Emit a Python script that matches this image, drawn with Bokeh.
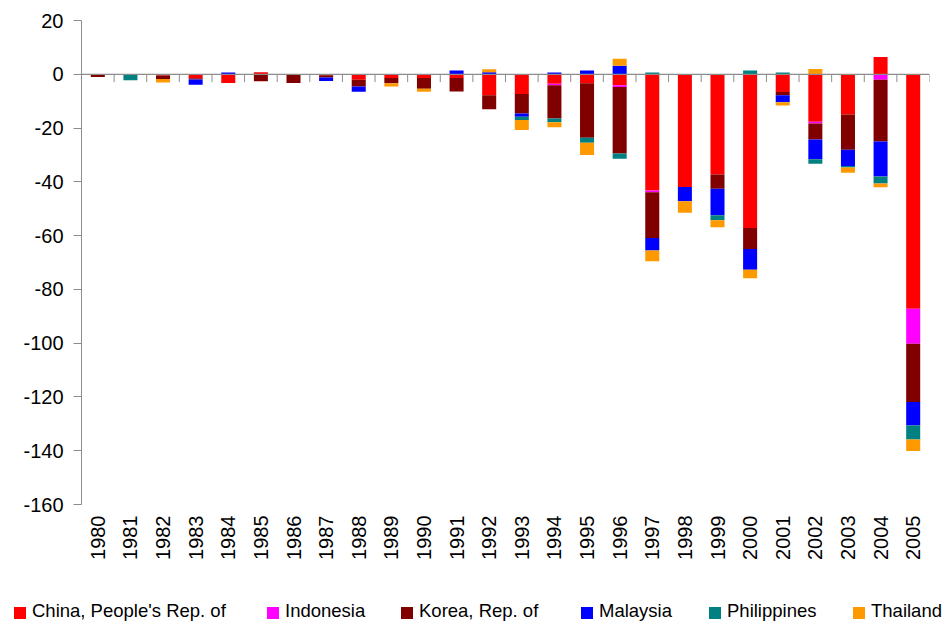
import math
from bokeh.plotting import figure
from bokeh.layouts import column
from bokeh.models import Range1d, FixedTicker, Span, Div
from bokeh.embed import file_html
from bokeh.resources import INLINE

years = ["1980", "1981", "1982", "1983", "1984", "1985", "1986", "1987", "1988",
         "1989", "1990", "1991", "1992", "1993", "1994", "1995", "1996", "1997",
         "1998", "1999", "2000", "2001", "2002", "2003", "2004", "2005"]

china = [-0.3, -0.2, -0.5, -1.5, -3.2, 0.8, -0.3, -0.4, -2.0, -1.4, -1.4, -1.4, -7.8,
         -7.3, -3.5, -3.3, -4.1, -43.2, -41.9, -37.3, -57.2, -6.6, -17.7, -15.0, 6.4, -87.2]
indonesia = [0, 0, 0, 0, 0, 0, 0, 0, 0, 0, 0, 0, 0,
             0, -0.6, 0, -0.6, -0.7, 0, 0, 0, 0, -0.6, 0, -2.0, -13.0]
korea = [-0.7, 0, -1.3, -0.4, 0, -2.6, -2.9, -0.8, -2.5, -1.9, -4.0, -5.0, -5.2,
         -7.3, -12.3, -20.3, -24.8, -17.0, 0, -5.3, -7.8, -1.2, -6.0, -13.1, -23.0, -21.7]
malaysia = [0, 0, 0, -2.0, 0.7, 0, 0, -1.3, -2.0, 0, 0, 1.4, 0.8,
            -1.2, 0.7, 1.4, 3.2, -4.6, -5.3, -9.8, -7.7, -2.6, -7.3, -6.0, -13.0, -8.7]
philippines = [0, -2.0, 0, 0, 0, 0, 0, 0, 0, 0, 0, 0, 0,
               -1.2, -1.4, -1.9, -1.9, 0.7, 0, -1.9, 1.4, 0.7, -1.7, -0.6, -2.6, -5.2]
thailand = [0, 0, -1.3, 0, 0, 0, 0, 0, 0, -1.2, -1.1, 0, 1.1,
            -3.7, -1.9, -4.5, 2.6, -4.0, -4.3, -2.6, -3.2, -1.2, 2.0, -1.9, -1.4, -4.3]

series_names = ["China, People's Rep. of", "Indonesia", "Korea, Rep. of",
                "Malaysia", "Philippines", "Thailand"]
series_values = [china, indonesia, korea, malaysia, philippines, thailand]
series_colors = ["#FF0000", "#FF00FF", "#800000", "#0000FF", "#008080", "#FF9900"]

y_ticks = [-160, -140, -120, -100, -80, -60, -40, -20, 0, 20]

n = len(years)
xs = list(range(n))

p = figure(width=940, height=590, output_backend="svg", toolbar_location=None,
           x_range=Range1d(-0.5, n - 0.5), y_range=Range1d(-160, 20),
           min_border_left=81, min_border_right=11, min_border_top=20,
           min_border_bottom=86)
p.outline_line_color = None
p.xgrid.visible = False
p.ygrid.visible = False
p.background_fill_color = "white"
p.border_fill_color = "white"

pos = [0.0] * n
neg = [0.0] * n
for name, vals, color in zip(series_names, series_values, series_colors):
    bottoms, tops = [], []
    for i, v in enumerate(vals):
        if v >= 0:
            b = pos[i]
            t = b + v
            pos[i] = t
        else:
            b = neg[i]
            t = b + v
            neg[i] = t
        bottoms.append(b)
        tops.append(t)
    p.vbar(x=xs, width=0.43, bottom=bottoms, top=tops, fill_color=color, line_color=None)

axis_gray = "#8c8c8c"

# zero line with category boundary ticks
p.add_layout(Span(location=0, dimension="width", line_color=axis_gray, line_width=1.2))
bounds = [i + 0.5 for i in range(n)]
p.segment(x0=bounds, y0=[0] * n, x1=bounds, y1=[-2.9] * n, line_color=axis_gray, line_width=1)

font = "Liberation Sans"

p.yaxis.ticker = FixedTicker(ticks=y_ticks)
p.yaxis.major_label_overrides = {v: str(v) for v in y_ticks}
p.yaxis.axis_line_color = axis_gray
p.yaxis.major_tick_line_color = axis_gray
p.yaxis.major_tick_out = 8
p.yaxis.major_tick_in = 0
p.yaxis.minor_tick_line_color = None
p.yaxis.major_label_standoff = 10
p.yaxis.major_label_text_font = font
p.yaxis.major_label_text_font_size = "20px"
p.yaxis.major_label_text_color = "black"

p.xaxis.ticker = FixedTicker(ticks=xs)
p.xaxis.major_label_overrides = {i: y for i, y in enumerate(years)}
p.xaxis.major_label_orientation = math.pi / 2
p.xaxis.axis_line_color = None
p.xaxis.major_tick_line_color = None
p.xaxis.minor_tick_line_color = None
p.xaxis.major_tick_out = 0
p.xaxis.major_label_standoff = 11
p.xaxis.major_label_text_font = font
p.xaxis.major_label_text_font_size = "20px"
p.xaxis.major_label_text_color = "black"

# legend strip below the chart (layout positions of the legend entries, in px)
legend_left = [14, 267, 401, 581, 709, 853]
parts = []
for nm, color, lx in zip(series_names, series_colors, legend_left):
    parts.append(
        f'<div style="position:absolute;left:{lx}px;top:17px;width:12px;height:12px;'
        f'background:{color};"></div>'
        f'<div style="position:absolute;left:{lx + 18}px;top:11px;line-height:20px;'
        f'white-space:nowrap;">{nm}</div>'
    )
legend_html = (
    '<div style="position:relative;width:940px;height:42px;'
    "font-family:'Liberation Sans',Arial,sans-serif;font-size:18.5px;color:black;\">"
    + "".join(parts) + "</div>"
)
legend_div = Div(text=legend_html, width=940, height=42, margin=(0, 0, 0, 0))

open("out.html", "w").write(file_html(column(p, legend_div, spacing=0), INLINE))
